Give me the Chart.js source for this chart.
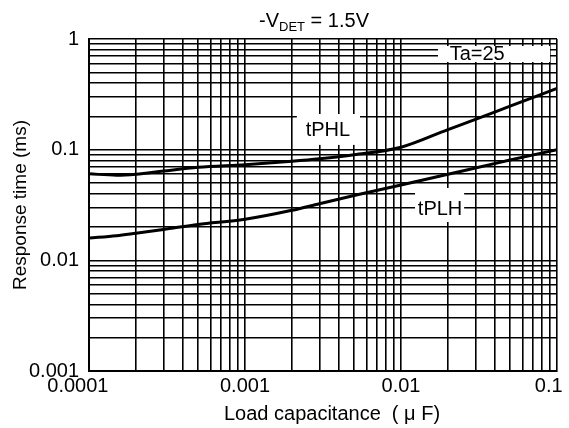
<!DOCTYPE html>
<html>
<head>
<meta charset="utf-8">
<script src="https://cdn.jsdelivr.net/npm/chart.js@4.4.0/dist/chart.umd.min.js"></script>
<style>
	body { margin: 0; background: #fff; }
	#wrap { width: 569px; height: 428px; }
</style>
</head>
<body>
<div id="wrap"><canvas id="myChart"></canvas></div>
<script>
const capacitance = [0.0001, 0.00015, 0.0002, 0.0003, 0.0005, 0.001, 0.002, 0.003, 0.005, 0.01, 0.02, 0.03, 0.05, 0.1];
const tPHL = [0.0605, 0.0588, 0.06, 0.0641, 0.0693, 0.0732, 0.0786, 0.0827, 0.0899, 0.1052, 0.152, 0.188, 0.247, 0.357];
const tPLH = [0.0159, 0.0167, 0.0176, 0.019, 0.0211, 0.0235, 0.0283, 0.0325, 0.0385, 0.048, 0.06, 0.0683, 0.0806, 0.1];
const xTickLabels = ["0.0001", "0.001", "0.01", "0.1"];
const yTickLabels = ["0.001", "0.01", "0.1", "1"];

const FONT = "'Liberation Sans', Arial, sans-serif";
const ctx = document.getElementById("myChart");

// ticks 1..9 per decade so every minor grid line shows up
const logTicks = (min, max) => {
	const ticks = [];
	for (let e = Math.round(Math.log10(min)); e < Math.round(Math.log10(max)); e++) {
		for (let s = 1; s < 10; s++) ticks.push({ value: s * Math.pow(10, e) });
	}
	ticks.push({ value: max });
	return ticks;
};

const labelFor = (labels) => (value) => {
	const hit = labels.find((l) => Math.abs(parseFloat(l) / value - 1) < 1e-6);
	return hit || "";
};

// the end labels of the x axis sit a little left of their grid line
const xLabel = (value) => {
	const text = labelFor(xTickLabels)(value);
	if (text === xTickLabels[0]) return text + "    ";
	if (text === xTickLabels[xTickLabels.length - 1]) return text + "   ";
	return text;
};

const toPoints = (ys) => capacitance.map((x, i) => ({ x: x, y: ys[i] }));

// curve names and the Ta box, placed in data units
const notes = [
	{ text: "tPHL", at: [0.0034, 0.15], box: [0.00215, 0.21, 0.00546, 0.1104], align: "center" },
	{ text: "tPLH", at: [0.0178, 0.0291], box: [0.0123, 0.0451, 0.0254, 0.0222], align: "center" },
	{ text: "Ta=25", at: [0.0205, 0.732], box: [0.01726, 0.864, 0.0902, 0.619], align: "left" },
];

const notesPlugin = {
	id: "notes",
	beforeDatasetsDraw(chart) {
		const c = chart.ctx;
		const xs = chart.scales.x;
		const ys = chart.scales.y;
		c.save();
		notes.forEach((n) => {
			const x1 = xs.getPixelForValue(n.box[0]);
			const y1 = ys.getPixelForValue(n.box[1]);
			const x2 = xs.getPixelForValue(n.box[2]);
			const y2 = ys.getPixelForValue(n.box[3]);
			c.fillStyle = "#fff";
			c.fillRect(x1, y1, x2 - x1, y2 - y1);
			c.fillStyle = "#000";
			c.font = "20px " + FONT;
			c.textAlign = n.align;
			c.textBaseline = "middle";
			c.fillText(n.text, xs.getPixelForValue(n.at[0]), ys.getPixelForValue(n.at[1]));
		});
		c.restore();
	},
};

const titlePlugin = {
	id: "vdetTitle",
	afterDraw(chart) {
		const c = chart.ctx;
		c.save();
		c.fillStyle = "#000";
		c.textBaseline = "alphabetic";
		c.font = "20px " + FONT;
		const a = "-V";
		const b = " = 1.5V";
		const wa = c.measureText(a).width;
		const wc = c.measureText(b).width;
		c.font = "13px " + FONT;
		const wb = c.measureText("DET").width;
		let x = 314 - (wa + wb + wc) / 2;
		c.textAlign = "left";
		c.font = "20px " + FONT;
		c.fillText(a, x, 27);
		x += wa;
		c.font = "13px " + FONT;
		c.fillText("DET", x, 31);
		x += wb;
		c.font = "20px " + FONT;
		c.fillText(b, x, 27);

		// x axis title, a bit right of the plot centre as in the original
		c.font = "20px " + FONT;
		c.textAlign = "center";
		c.textBaseline = "middle";
		c.fillText("Load capacitance  ( μ F)", 332, 414);
		c.restore();
	},
};

const lineStyle = {
	borderColor: "#000",
	borderWidth: 3,
	pointRadius: 0,
	fill: false,
	cubicInterpolationMode: "monotone",
};

const myChart = new Chart(ctx, {
	type: "line",
	data: {
		datasets: [
			Object.assign({ label: "tPHL", data: toPoints(tPHL) }, lineStyle),
			Object.assign({ label: "tPLH", data: toPoints(tPLH) }, lineStyle),
		],
	},
	options: {
		responsive: true,
		maintainAspectRatio: false,
		animation: false,
		layout: { padding: { left: 0, right: 12, top: 39, bottom: 0 } },
		plugins: {
			legend: { display: false },
			tooltip: { enabled: false },
		},
		scales: {
			x: {
				type: "logarithmic",
				min: 0.0001,
				max: 0.1,
				afterBuildTicks: (scale) => { scale.ticks = logTicks(0.0001, 0.1); },
				afterFit: (scale) => {
					scale.height = 57;
					scale.paddingLeft = 0;
					scale.paddingRight = 0;
				},
				grid: { color: "#000", lineWidth: 1.6, drawTicks: false },
				border: { color: "#000", width: 2 },
				ticks: {
					autoSkip: false,
					maxRotation: 0,
					padding: 3,
					color: "#000",
					font: { family: FONT, size: 20 },
					callback: xLabel,
				},
			},
			y: {
				type: "logarithmic",
				min: 0.001,
				max: 1,
				afterBuildTicks: (scale) => { scale.ticks = logTicks(0.001, 1); },
				afterFit: (scale) => { scale.width = 89; },
				grid: { color: "#000", lineWidth: 1.6, drawTicks: false },
				border: { color: "#000", width: 2 },
				ticks: {
					autoSkip: false,
					padding: 10,
					color: "#000",
					font: { family: FONT, size: 20 },
					callback: labelFor(yTickLabels),
				},
				title: {
					display: true,
					text: "Response time (ms)",
					color: "#000",
					font: { family: FONT, size: 19 },
					padding: { top: 9, bottom: 0 },
				},
			},
		},
	},
	plugins: [notesPlugin, titlePlugin],
});
</script>
</body>
</html>
